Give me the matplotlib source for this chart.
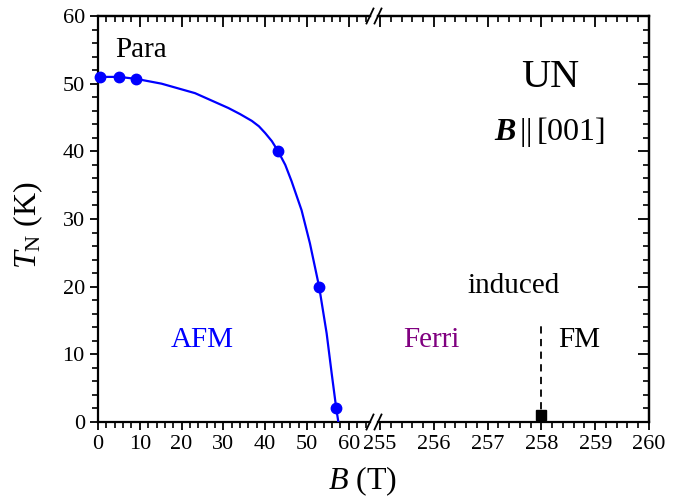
import matplotlib
matplotlib.use("Agg")
import matplotlib.pyplot as plt
from matplotlib.lines import Line2D
from matplotlib.ticker import MultipleLocator

plt.rcParams["font.family"] = ["Liberation Serif", "DejaVu Serif"]
plt.rcParams["mathtext.fontset"] = "custom"
plt.rcParams["mathtext.rm"] = "Liberation Serif"
plt.rcParams["mathtext.it"] = "Liberation Serif:italic"
plt.rcParams["mathtext.bf"] = "Liberation Serif:italic:bold"

# measured Neel temperatures (AFM boundary)
B_pts = [0.4, 5.1, 9.2, 43.1, 52.9, 57.0]
T_pts = [51.0, 51.0, 50.7, 40.0, 20.0, 2.0]

# guide line through the AFM boundary
B_fit = [0.4, 5.1, 9.2, 15.2, 23.2, 31.2, 34.0, 36.8, 38.5, 40.0, 41.6,
         43.1, 44.8, 46.3, 48.7, 50.7, 52.9, 54.7, 55.9, 57.0, 57.5]
T_fit = [51.0, 51.0, 50.7, 50.0, 48.6, 46.4, 45.5, 44.5, 43.7, 42.7, 41.5,
         40.0, 38.0, 35.6, 31.3, 26.4, 20.0, 13.1, 7.2, 2.0, 0.0]

# induced FM transition
B_fm = [258.0]
T_fm = [1.0]
T_fm_line = [0.0, 14.3]

left_ticks = [0, 10, 20, 30, 40, 50, 60]
right_ticks = [255, 256, 257, 258, 259, 260]

W, H = 679, 500
fig = plt.figure(figsize=(W / 100, H / 100), dpi=100)

x0, x_brk_l, x_brk_r, x1 = 98, 370, 378, 649
y_bot, y_top = 422, 16
fb = (H - y_bot) / H
fh = (y_bot - y_top) / H
axL = fig.add_axes([x0 / W, fb, (x_brk_l - x0) / W, fh])
axR = fig.add_axes([x_brk_r / W, fb, (x1 - x_brk_r) / W, fh])

# px per unit: left 4.18 px/T, right 53.8 px/T
axL.set_xlim(0, (x_brk_l - x0) / 4.18)
axR.set_xlim(255 - (380 - x_brk_r) / 53.8, 260)
for ax in (axL, axR):
    ax.set_ylim(0, 60)
    for s in ax.spines.values():
        s.set_linewidth(1.6)

axL.spines["right"].set_visible(False)
axR.spines["left"].set_visible(False)

blue = "#0000ff"
axL.plot(B_fit, T_fit, color=blue, lw=1.6, zorder=3)
axL.plot(B_pts, T_pts, "o", color=blue, ms=7.5, zorder=4, clip_on=False)

axR.plot([B_fm[0], B_fm[0]], T_fm_line, color="black", lw=1.3, ls=(0, (4, 3)))
axR.plot(B_fm, T_fm, "s", color="black", ms=7, zorder=4, clip_on=False)

# ticks: bottom/left point outward, top/right point inward
tick_kw = dict(labelsize=16, width=1.3)
axL.set_xticks(left_ticks)
axL.xaxis.set_minor_locator(MultipleLocator(2))
axL.yaxis.set_major_locator(MultipleLocator(10))
axL.yaxis.set_minor_locator(MultipleLocator(2))
axL.tick_params(which="major", direction="out", length=6, **tick_kw)
axL.tick_params(which="minor", direction="out", length=4, width=1.2)

axR.set_xticks(right_ticks)
axR.xaxis.set_minor_locator(MultipleLocator(0.2))
axR.tick_params(axis="x", which="major", direction="out", length=6, **tick_kw)
axR.tick_params(axis="x", which="minor", direction="out", length=4, width=1.2)
axR.tick_params(axis="y", which="both", left=False, labelleft=False)

for ax, major, minor in ((axL, 10, 2), (axR, 1, 0.2)):
    top = ax.secondary_xaxis("top")
    top.xaxis.set_major_locator(MultipleLocator(major))
    top.xaxis.set_minor_locator(MultipleLocator(minor))
    top.tick_params(which="major", direction="in", length=8, width=1.3,
                    labeltop=False)
    top.tick_params(which="minor", direction="in", length=4.5, width=1.2)
    top.spines["top"].set_linewidth(1.6)

rgt = axR.secondary_yaxis("right")
rgt.yaxis.set_major_locator(MultipleLocator(10))
rgt.yaxis.set_minor_locator(MultipleLocator(2))
rgt.tick_params(which="major", direction="in", length=8, width=1.3,
                labelright=False)
rgt.tick_params(which="minor", direction="in", length=4.5, width=1.2)
rgt.spines["right"].set_linewidth(1.6)

# axis break marks
for xb in (x_brk_l, x_brk_r):
    for yb in (y_bot, y_top):
        fig.add_artist(Line2D([(xb - 3.5) / W, (xb + 3.5) / W],
                              [(H - yb - 7.5) / H, (H - yb + 7.5) / H],
                              color="black", lw=1.3))

# phase labels
axL.text(4.1, 54, "Para", fontsize=21, ha="left", va="baseline")
axL.text(24.9, 11.1, "AFM", fontsize=21, color=blue, ha="center",
         va="baseline")
axR.text(255.96, 11.1, "Ferri", fontsize=21, color="#800080", ha="center",
         va="baseline")
axR.text(258.7, 11.1, "FM", fontsize=21, ha="center", va="baseline")
axR.text(257.49, 19.0, "induced", fontsize=21, ha="center", va="baseline")
axR.text(258.16, 49.5, "UN", fontsize=29, ha="center", va="baseline")
axR.text(258.16, 41.7, r"$\mathbf{B}\,$||$\,$[001]", fontsize=23,
         ha="center", va="baseline")

fig.text(363 / W, (H - 489) / H, r"$B$ (T)", fontsize=23, ha="center",
         va="baseline")
fig.text(28 / W, (H - 225) / H, r"$T_{\rm N}$ (K)", fontsize=23,
         rotation=90, ha="center", va="center")

fig.savefig("out.png", dpi=100)
